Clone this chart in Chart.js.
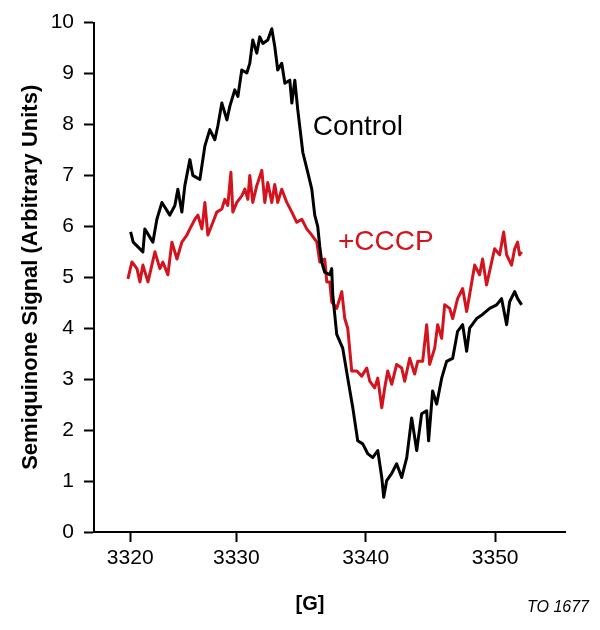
<!DOCTYPE html>
<html><head><meta charset="utf-8">
<script src="https://cdn.jsdelivr.net/npm/chart.js@4"></script>
<style>html,body{margin:0;padding:0;background:#fff;}canvas{display:block;}</style>
</head><body>
<canvas id="c" width="600" height="630"></canvas>
<script>
// Magnetic field [G] and signal (arbitrary units)
const controlField = [3321.83,3322.03,3322.78,3322.93,3323.55,3323.86,3324.25,3324.86,3325.25,3325.48,3325.79,3326.02,3326.41,3326.64,3327.18,3327.57,3327.95,3328.34,3328.57,3328.88,3329.27,3329.50,3329.88,3330.12,3330.42,3330.81,3331.04,3331.27,3331.58,3331.81,3332.05,3332.43,3332.74,3332.97,3333.20,3333.51,3333.75,3334.13,3334.29,3334.52,3334.75,3335.14,3335.52,3335.83,3336.06,3336.29,3336.45,3336.60,3336.83,3337.22,3337.37,3337.45,3337.76,3338.22,3338.61,3339.00,3339.38,3339.77,3340.15,3340.54,3340.93,3341.24,3341.39,3341.62,3342.01,3342.39,3342.78,3343.17,3343.55,3343.94,3344.32,3344.71,3344.86,3345.17,3345.48,3345.87,3346.25,3346.72,3347.10,3347.49,3347.80,3348.03,3348.57,3349.03,3349.58,3350.12,3350.50,3350.89,3351.12,3351.51,3351.74,3352.05];
const controlSignal = [5.89,5.69,5.50,5.95,5.69,6.14,6.47,6.22,6.41,6.73,6.28,6.80,7.31,7.00,6.92,7.58,7.90,7.70,7.97,8.42,8.09,8.36,8.68,8.55,9.07,9.01,9.20,9.66,9.40,9.72,9.59,9.66,9.88,9.53,9.07,9.20,8.81,8.87,8.42,8.87,8.28,7.45,7.06,6.73,6.22,6.00,5.60,5.30,5.10,5.05,5.17,4.66,3.88,3.61,3.02,2.44,1.79,1.73,1.54,1.46,1.60,1.07,0.68,1.01,1.15,1.34,1.07,1.46,2.24,1.60,2.32,2.38,1.79,2.77,2.51,3.02,3.35,3.41,3.94,4.07,3.55,4.00,4.19,4.27,4.39,4.46,4.58,4.07,4.52,4.72,4.58,4.46];

const cccpField = [3321.62,3321.93,3322.32,3322.55,3322.78,3323.17,3323.71,3324.09,3324.32,3324.71,3325.02,3325.41,3325.79,3326.18,3326.41,3326.80,3327.03,3327.34,3327.57,3327.80,3328.19,3328.49,3328.88,3329.11,3329.34,3329.58,3329.73,3330.04,3330.42,3330.66,3330.89,3331.04,3331.27,3331.58,3331.97,3332.20,3332.43,3332.74,3332.97,3333.20,3333.51,3333.90,3334.29,3334.67,3335.06,3335.44,3335.83,3336.22,3336.45,3336.83,3336.99,3337.22,3337.37,3337.76,3338.15,3338.38,3338.61,3338.92,3339.31,3339.69,3340.08,3340.31,3340.69,3340.93,3341.24,3341.47,3341.70,3342.01,3342.39,3342.78,3343.01,3343.40,3343.78,3344.02,3344.40,3344.71,3344.94,3345.33,3345.56,3345.87,3346.10,3346.49,3346.72,3347.10,3347.49,3347.80,3348.03,3348.42,3348.80,3349.03,3349.34,3349.73,3349.96,3350.35,3350.66,3350.89,3351.27,3351.51,3351.74,3351.89,3352.05];
const cccpSignal = [4.97,5.30,5.17,4.91,5.24,4.91,5.50,5.17,5.30,5.05,5.69,5.36,5.69,5.83,5.95,6.14,6.22,5.95,6.47,5.83,6.08,6.28,6.34,6.53,6.41,7.06,6.28,6.47,6.60,6.73,6.53,7.00,6.47,6.80,7.10,6.47,6.86,6.47,6.82,6.47,6.73,6.47,6.28,6.08,6.14,5.95,5.83,5.69,5.30,5.36,4.91,4.91,4.52,4.39,4.72,4.19,4.00,3.16,3.16,3.06,3.22,2.96,2.83,3.02,2.44,2.83,3.16,2.90,3.29,3.22,2.96,3.41,3.10,3.35,3.35,4.07,3.29,3.61,4.07,3.80,4.46,4.39,4.19,4.58,4.78,4.33,4.66,5.24,5.05,5.36,4.85,5.30,5.56,5.44,5.89,5.44,5.24,5.56,5.69,5.44,5.50];

const seriesNames = ['Control', '+CCCP'];
const seriesColors = ['#000000', '#d2141e'];

// Axis: the printed tick marks are where the labels sit on the original figure
const xMin = 3319.0, xMax = 3355.4;
const xTickValues = [3321.8, 3330, 3340, 3350];
const xTickLabels = ['3320', '3330', '3340', '3350'];
const yMin = 0, yMax = 10, yStep = 1;
const xTitle = '[G]';
const yTitle = 'Semiquinone Signal (Arbitrary Units)';
const figureCode = 'TO 1677';

// in-plot series labels, anchored at data coordinates
const labelField = [3335.9, 3337.85];
const labelSignal = [7.95, 5.69];

const FONT = "'Liberation Sans', Arial, Helvetica, sans-serif";
Chart.defaults.font.family = FONT;
Chart.defaults.color = '#000';

const textPlugin = {
  id: 'textPlugin',
  afterDraw(chart) {
    const ctx = chart.ctx, xs = chart.scales.x, ys = chart.scales.y;
    ctx.save();
    ctx.textBaseline = 'middle';
    ctx.textAlign = 'left';
    ctx.font = '28px ' + FONT;
    seriesNames.forEach((name, i) => {
      ctx.fillStyle = seriesColors[i];
      ctx.fillText(name, xs.getPixelForValue(labelField[i]), ys.getPixelForValue(labelSignal[i]));
    });
    ctx.font = 'italic 16px ' + FONT;
    ctx.fillStyle = '#000';
    ctx.textAlign = 'right';
    ctx.fillText(figureCode, chart.width - 11, chart.height - 22);
    ctx.restore();
  }
};

const datasets = [
  {field: controlField, signal: controlSignal},
  {field: cccpField, signal: cccpSignal}
].map((s, i) => ({
  label: seriesNames[i],
  data: s.field.map((x, k) => ({x: x, y: s.signal[k]})),
  borderColor: seriesColors[i],
  backgroundColor: seriesColors[i],
  borderWidth: 3,
  pointRadius: 0,
  tension: 0,
  fill: false,
  borderJoinStyle: 'round'
}));

new Chart(document.getElementById('c'), {
  type: 'line',
  data: {datasets: datasets},
  plugins: [textPlugin],
  options: {
    responsive: false,
    animation: false,
    devicePixelRatio: 1,
    layout: {padding: {left: 20, right: 0, top: 19, bottom: 0}},
    plugins: {
      legend: {display: false},
      tooltip: {enabled: false},
      title: {
        display: true, text: xTitle, position: 'bottom', color: '#000',
        font: {size: 20, weight: 'bold', lineHeight: 1.2},
        padding: {top: 0, bottom: 14}
      }
    },
    scales: {
      x: {
        type: 'linear', min: xMin, max: xMax,
        afterBuildTicks: s => { s.ticks = xTickValues.map(v => ({value: v})); },
        afterFit: s => { s.height = 60; s.paddingRight = 35; },
        ticks: {
          callback: (v, i) => xTickLabels[i],
          font: {size: 21}, color: '#000', padding: 4,
          autoSkip: false, maxRotation: 0
        },
        grid: {drawOnChartArea: false, drawTicks: true, tickLength: 10, tickWidth: 2, tickColor: '#000'},
        border: {display: true, color: '#000', width: 2}
      },
      y: {
        min: yMin, max: yMax,
        afterFit: s => { s.width = 74; },
        ticks: {stepSize: yStep, font: {size: 21}, color: '#000', padding: 10},
        grid: {drawOnChartArea: false, drawTicks: true, tickLength: 10, tickWidth: 2, tickColor: '#000'},
        border: {display: true, color: '#000', width: 2},
        title: {
          display: true, text: yTitle, color: '#000',
          font: {size: 22, weight: 'bold', lineHeight: 1},
          padding: {top: 0, bottom: 0}
        }
      }
    }
  }
});
</script>
</body></html>
